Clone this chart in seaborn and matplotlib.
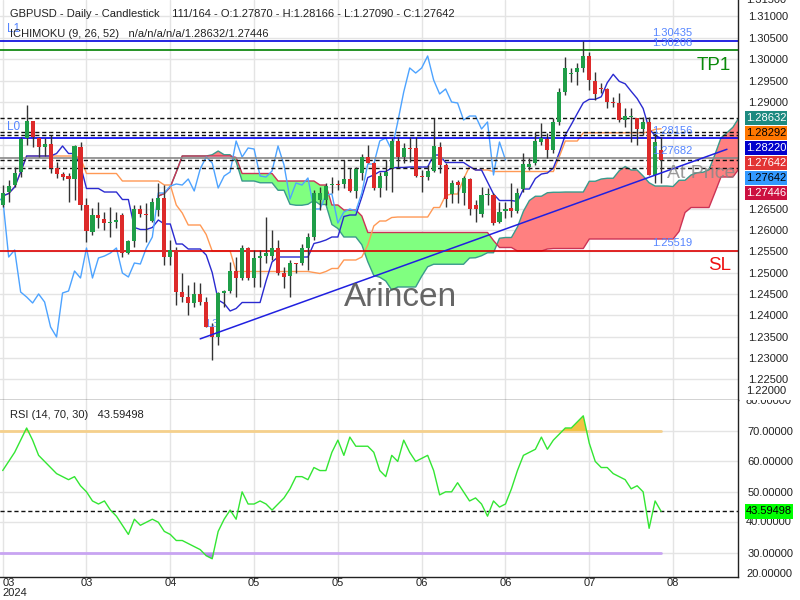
import numpy as np
import pandas as pd
import matplotlib
matplotlib.use("Agg")
import matplotlib.pyplot as plt
import seaborn as sns
from matplotlib.transforms import Bbox, TransformedBbox
from matplotlib.patches import Rectangle

sns.set_theme(style="white")
plt.rcParams['font.family'] = ['Liberation Sans', 'DejaVu Sans']

# ---------------- data ----------------
opens = [1.26585, 1.26889, 1.27053, 1.27358, 1.28154, 1.28552, 1.28154, 1.27943, 1.28014, 1.27451,
         1.27311, 1.27264, 1.27194, 1.27943, 1.26585, 1.25953, 1.26351, 1.26257, 1.26163, 1.26187,
         1.26351, 1.25461, 1.25742, 1.26491, 1.26374, 1.26210, 1.26468, 1.26749, 1.25367, 1.25531,
         1.24547, 1.24430, 1.24290, 1.24501, 1.24313, 1.23728, 1.23494, 1.24524, 1.24571, 1.25039,
         1.24875, 1.25578, 1.24875, 1.25344, 1.25390, 1.25390, 1.25578, 1.24992, 1.24922, 1.25226,
         1.25226, 1.25578, 1.25835, 1.26702, 1.26702, 1.27053, 1.27077, 1.27077, 1.27194, 1.26913,
         1.27334, 1.27709, 1.27569, 1.26983, 1.27264, 1.27451, 1.28084, 1.27709, 1.27920, 1.27920,
         1.27264, 1.27241, 1.27381, 1.27943, 1.27522, 1.26843, 1.27124, 1.26866, 1.27194, 1.26585,
         1.26374, 1.26819, 1.26819, 1.26187, 1.26444, 1.26515, 1.26444, 1.26960, 1.27475, 1.27569,
         1.28060, 1.28131, 1.27873, 1.28529, 1.29231, 1.29653, 1.29700, 1.29794, 1.30075, 1.29489,
         1.29325, 1.29302, 1.28997, 1.28974, 1.28576, 1.28646, 1.28622, 1.28365, 1.28529, 1.27288,
         1.27870]
highs = [1.27053, 1.27170, 1.27475, 1.28177, 1.28927, 1.28552, 1.28177, 1.28154, 1.28224, 1.27592,
         1.27358, 1.27334, 1.27990, 1.28060, 1.26749, 1.26515, 1.26655, 1.26421, 1.26538, 1.26421,
         1.26398, 1.25765, 1.26585, 1.26585, 1.26632, 1.26749, 1.27100, 1.27053, 1.25765, 1.25601,
         1.24992, 1.24711, 1.24782, 1.24758, 1.24430, 1.23821, 1.24547, 1.24594, 1.25250, 1.25367,
         1.25648, 1.25601, 1.25531, 1.25531, 1.26304, 1.25999, 1.25765, 1.25133, 1.25297, 1.25226,
         1.25672, 1.25929, 1.26936, 1.27006, 1.27100, 1.27241, 1.27170, 1.27639, 1.27451, 1.27475,
         1.27779, 1.27990, 1.27592, 1.27358, 1.27639, 1.28154, 1.28177, 1.28037, 1.28177, 1.28177,
         1.27405, 1.27522, 1.28622, 1.28060, 1.27569, 1.27170, 1.27170, 1.27264, 1.27217, 1.26702,
         1.27006, 1.26983, 1.26866, 1.26655, 1.26655, 1.27100, 1.26983, 1.27803, 1.27686, 1.28295,
         1.28505, 1.28271, 1.28622, 1.29325, 1.30051, 1.29794, 1.29911, 1.30435, 1.30168, 1.29700,
         1.29442, 1.29325, 1.29114, 1.29208, 1.28857, 1.28857, 1.28622, 1.28646, 1.28646, 1.28271,
         1.28166]
lows = [1.26538, 1.26655, 1.27006, 1.27241, 1.27990, 1.27943, 1.27709, 1.27732, 1.27334, 1.27217,
        1.27170, 1.26655, 1.26702, 1.26468, 1.25718, 1.25882, 1.26046, 1.25999, 1.25835, 1.26046,
        1.25367, 1.25437, 1.25601, 1.26304, 1.25718, 1.26187, 1.26327, 1.25180, 1.25180, 1.24243,
        1.24313, 1.24009, 1.24196, 1.24243, 1.23728, 1.22955, 1.23306, 1.24196, 1.24524, 1.24430,
        1.24828, 1.24828, 1.24665, 1.24665, 1.25226, 1.25297, 1.24945, 1.24641, 1.24430, 1.24992,
        1.25180, 1.25062, 1.25765, 1.26468, 1.26585, 1.26866, 1.26936, 1.26983, 1.26889, 1.26749,
        1.27170, 1.27569, 1.26936, 1.26772, 1.26936, 1.26889, 1.27475, 1.27569, 1.27592, 1.27241,
        1.26889, 1.27170, 1.27358, 1.27334, 1.26538, 1.26632, 1.26632, 1.26585, 1.26351, 1.26187,
        1.26304, 1.26585, 1.26116, 1.26163, 1.26280, 1.26304, 1.26398, 1.26889, 1.27405, 1.27522,
        1.27990, 1.27686, 1.27803, 1.28459, 1.29161, 1.29466, 1.29395, 1.29700, 1.29278, 1.29044,
        1.29208, 1.28857, 1.28880, 1.28529, 1.28412, 1.28060, 1.27990, 1.28224, 1.27288, 1.27100,
        1.27090]
closes = [1.26866, 1.27030, 1.27334, 1.28131, 1.28548, 1.28177, 1.27943, 1.28014, 1.27451, 1.27311,
          1.27241, 1.27194, 1.27967, 1.26585, 1.25976, 1.26351, 1.26280, 1.26163, 1.26187, 1.26234,
          1.25461, 1.25742, 1.26491, 1.26374, 1.26351, 1.26655, 1.26749, 1.25367, 1.25531, 1.24547,
          1.24430, 1.24290, 1.24501, 1.24313, 1.23728, 1.23494, 1.24524, 1.24571, 1.25039, 1.24875,
          1.25578, 1.24875, 1.25344, 1.25390, 1.25461, 1.25578, 1.24992, 1.24899, 1.25226, 1.25203,
          1.25578, 1.25835, 1.26866, 1.26866, 1.27030, 1.27077, 1.27053, 1.27194, 1.26913, 1.27428,
          1.27709, 1.27569, 1.26983, 1.27264, 1.27358, 1.28084, 1.27709, 1.27920, 1.27896, 1.27264,
          1.27241, 1.27381, 1.27967, 1.27522, 1.26725, 1.27100, 1.27053, 1.27217, 1.26491, 1.26491,
          1.26819, 1.26843, 1.26163, 1.26421, 1.26491, 1.26444, 1.26866, 1.27545, 1.27545, 1.28084,
          1.28154, 1.27873, 1.28529, 1.29231, 1.29794, 1.29676, 1.29794, 1.30075, 1.29512, 1.29185,
          1.29302, 1.28997, 1.28974, 1.28576, 1.28669, 1.28669, 1.28365, 1.28529, 1.27288, 1.28060,
          1.27642]
rsi = [57, 60, 63, 67, 71, 67, 62, 60, 58, 56, 55,
       54, 55, 52, 50, 47, 46, 47, 44, 42, 39,
       36, 41, 39, 40, 41, 40, 37, 36, 34, 34,
       33, 32, 31, 29, 28, 37, 41, 44, 41, 50,
       46, 46, 47, 46, 44, 46, 48, 51, 55, 55,
       54, 58, 57, 57, 63, 67, 62, 68, 65, 65,
       65, 63, 57, 55, 62, 60, 67, 63, 60, 61,
       62, 57, 49, 50, 50, 53, 50, 47, 48, 46,
       42, 47, 45, 46, 51, 57, 62, 63, 64, 68,
       64, 67, 69, 71, 71, 73, 75, 66, 60, 58,
       58, 56, 55, 54, 51, 52, 50, 38, 47, 43.59498]

tick_pos = [0, 14, 28, 42, 56, 70, 84, 98, 112]
tick_lbl = ['03\n2024', '03', '04', '05', '05', '06', '06', '07', '08']
price_ticks = [1.225, 1.230, 1.235, 1.240, 1.245, 1.250, 1.255, 1.260, 1.265, 1.270,
               1.275, 1.280, 1.285, 1.290, 1.295, 1.300, 1.305, 1.310]
hidden_ticks = [1.270, 1.275, 1.280, 1.285]   # covered by the price boxes
rsi_ticks = [30, 40, 50, 60, 70]

level_L1 = 1.30435
level_TP1 = 1.30208
level_L0 = 1.28156
level_at_price = 1.27682
level_SL = 1.25519
dashed_levels = [1.28632, 1.28292, 1.28220, 1.27642, 1.27446]
box_vals = [1.28632, 1.28292, 1.28220, 1.27642, 1.27642, 1.27446]
box_cols = ['#1d8a80', '#ff7700', '#0000cc', '#e23434', '#3399ff', '#cc1040']
box_tcol = ['white', 'black', 'white', 'white', 'black', 'white']
trend_x = [33, 121]
trend_y = [1.2345, 1.2789]
rsi_last = 43.59498

# ---------------- derived indicators ----------------
df = pd.DataFrame({'o': opens, 'h': highs, 'l': lows, 'c': closes})
n = len(df)
xb = np.arange(n)
tenkan = (df.h.rolling(9, min_periods=1).max() + df.l.rolling(9, min_periods=1).min()) / 2
kijun = (df.h.rolling(26, min_periods=1).max() + df.l.rolling(26, min_periods=1).min()) / 2
spanA = ((tenkan + kijun) / 2).values
spanB = ((df.h.rolling(52, min_periods=1).max() + df.l.rolling(52, min_periods=1).min()) / 2).values
xs = xb + 26

# ---------------- figure ----------------
fig = plt.figure(figsize=(8, 6), dpi=100)
fig.patch.set_facecolor('white')
W, H = 800, 600
ax1 = fig.add_axes([0, 1 - 400 / H, 738 / W, 400 / H])
ax2 = fig.add_axes([0, 1 - 577 / H, 738 / W, 177 / H])
XL = (-0.45, 122.85)


def fx(px):
    return px / W


def fy(py):
    return 1 - py / H


def price_box(yc_disp, txt, fc, tc, x0=745, w=42, h=14):
    fig.add_artist(Rectangle((x0 / W, (yc_disp - h / 2) / H), w / W, h / H,
                             transform=fig.transFigure, facecolor=fc, edgecolor='none', zorder=5))
    fig.text((x0 + w / 2) / W, yc_disp / H, txt, fontsize=8, color=tc, ha='center', va='center', zorder=6)


# --- price panel ---
ax1.set_xlim(*XL)
ax1.set_ylim(1.22018, 1.31386)
ax1.set_yticks(price_ticks)
ax1.set_xticks(tick_pos)
ax1.set_xticklabels([])
ax1.yaxis.tick_right()
ax1.set_yticklabels(['' if any(abs(v - h) < 1e-9 for h in hidden_ticks) else f"{v:.5f}" for v in price_ticks])
ax1.tick_params(axis='y', length=0, pad=7, labelsize=8, labelcolor='#222')
ax1.tick_params(axis='x', length=0)
ax1.grid(True, color='#e4e4e4', lw=1)
for s in ['left', 'top']:
    ax1.spines[s].set_visible(False)
for s in ['right', 'bottom']:
    ax1.spines[s].set_color('#222')
    ax1.spines[s].set_linewidth(1)

# cloud
ax1.fill_between(xs, spanA, spanB, where=spanA >= spanB, interpolate=True, color='#ff8080', lw=0, zorder=1)
ax1.fill_between(xs, spanA, spanB, where=spanA < spanB, interpolate=True, color='#80ff80', lw=0, zorder=1)
sns.lineplot(x=xs, y=spanA, ax=ax1, color='#3a9a8c', lw=1, zorder=2)
sns.lineplot(x=xs, y=spanB, ax=ax1, color='#cc3355', lw=1, zorder=2)

# lines
sns.lineplot(x=xb, y=kijun.values, ax=ax1, color='#ff9955', lw=1, zorder=2)
sns.lineplot(x=xb, y=tenkan.values, ax=ax1, color='#2a2ad0', lw=1, zorder=2)
sns.lineplot(x=xb - 26, y=df.c.values, ax=ax1, color='#4da3ff', lw=1, zorder=2)

# horizontal levels
ax1.axhline(level_L1, color='#0000dd', lw=1.2, zorder=2)
ax1.axhline(level_TP1, color='#008000', lw=1.2, zorder=2)
ax1.axhline(level_L0, color='#0000ee', lw=1.2, zorder=2)
ax1.axhline(level_at_price, color='#888888', lw=1.2, zorder=2)
ax1.axhline(level_SL, color='#dd0000', lw=1.2, zorder=2)
for lv in dashed_levels:
    ax1.axhline(lv, color='#111', lw=1, ls=(0, (3, 2)), zorder=2)

# candles
o = np.array(opens)
c = np.array(closes)
up = c >= o
ax1.vlines(xb, lows, highs, color='#333333', lw=1, zorder=3)
body = np.maximum(np.abs(c - o), 0.00022)
ax1.bar(xb[up], body[up], bottom=np.minimum(o, c)[up], width=0.68, color='#1f9e48', lw=0, zorder=4)
ax1.bar(xb[~up], body[~up], bottom=np.minimum(o, c)[~up], width=0.68, color='#dd2a2a', lw=0, zorder=4)

# trend line
ax1.plot(trend_x, trend_y, color='#2020e0', lw=1.1, zorder=5)

# level labels
lab_col = '#5585ff'
for lv, t in [(level_L1, '1.30435'), (level_TP1, '1.30208'), (level_L0, '1.28156'),
              (level_at_price, '1.27682'), (level_SL, '1.25519')]:
    ax1.annotate(t, xy=(652 / 738, lv), xycoords=('axes fraction', 'data'), xytext=(0, 5.2),
                 textcoords='offset points', va='center', ha='left', fontsize=8, color=lab_col, zorder=6)
ax1.annotate('L1', xy=(7 / 738, level_L1), xycoords=('axes fraction', 'data'), xytext=(0, 8),
             textcoords='offset points', va='center', ha='left', fontsize=8.5, color=lab_col)
ax1.annotate('L0', xy=(7 / 738, level_L0), xycoords=('axes fraction', 'data'), xytext=(0, 8),
             textcoords='offset points', va='center', ha='left', fontsize=8.5, color=lab_col)
ax1.annotate('L3', xy=(trend_x[0], trend_y[0]), xycoords='data', xytext=(4, 11),
             textcoords='offset points', va='center', ha='left', fontsize=8, color='#6a8cff', zorder=3)

fig.text(fx(714), fy(66), 'TP1', color='#0a8a0a', fontsize=13.5, ha='center', va='center')
fig.text(fx(720), fy(266), 'SL', color='#ee1111', fontsize=13.5, ha='center', va='center')
fig.text(fx(701), fy(174), 'At Price', color='#888888', fontsize=14, ha='center', va='center', alpha=0.85)
fig.text(fx(400), fy(298), 'Arincen', color='#555555', fontsize=24, ha='center', va='center', alpha=0.9)

# headers
fig.text(fx(10), fy(14), 'GBPUSD - Daily - Candlestick    111/164 - O:1.27870 - H:1.28166 - L:1.27090 - C:1.27642',
         fontsize=8, color='#222', ha='left', va='center')
fig.text(fx(10), fy(34), 'ICHIMOKU (9, 26, 52)   n/a/n/a/n/a/1.28632/1.27446',
         fontsize=8, color='#222', ha='left', va='center')
fig.text(fx(10), fy(415), 'RSI (14, 70, 30)   43.59498', fontsize=8, color='#222', ha='left', va='center')

# extra axis labels at the edges
fig.text(fx(746), fy(391), '1.22000', fontsize=8, color='#222', ha='left', va='center')
fig.text(fx(746), 1.0, '1.31500', fontsize=8, color='#222', ha='left', va='center')
t80 = fig.text(fx(746), fy(401), '80.00000', fontsize=8, color='#222', ha='left', va='center')
t80.set_clip_on(True)
t80.set_clip_box(TransformedBbox(Bbox([[0.9, 0.0], [1.0, fy(400)]]), fig.transFigure))
t20 = fig.text(fx(746), fy(574), '20.00000', fontsize=8, color='#222', ha='left', va='center')
t20.set_clip_on(True)
t20.set_clip_box(TransformedBbox(Bbox([[0.9, fy(579)], [1.0, 1.0]]), fig.transFigure))

# price boxes (stacked so they do not overlap)
prev = None
for v, col, tc in zip(box_vals, box_cols, box_tcol):
    yd = ax1.transData.transform((0, v))[1]
    if prev is not None:
        yd = min(yd, prev - 15)
    prev = yd
    price_box(yd, f"{v:.5f}", col, tc)

# --- RSI panel ---
ax2.set_xlim(*XL)
ax2.set_ylim(22.0, 80.2)
ax2.set_yticks(rsi_ticks)
ax2.yaxis.tick_right()
ax2.set_yticklabels(['' if v == 40 else f"{v:.5f}" for v in rsi_ticks])
ax2.tick_params(axis='y', length=0, pad=7, labelsize=8, labelcolor='#222')
ax2.set_xticks(tick_pos)
ax2.set_xticklabels(tick_lbl, fontsize=8, color='#222', linespacing=0.95)
ax2.get_xticklabels()[0].set_ha('left')
ax2.tick_params(axis='x', length=0, pad=1)
ax2.grid(True, color='#e4e4e4', lw=1)
for s in ['left', 'top']:
    ax2.spines[s].set_visible(False)
for s in ['right', 'bottom']:
    ax2.spines[s].set_color('#222')
    ax2.spines[s].set_linewidth(1)

r = np.array(rsi, dtype=float)
ax2.plot([XL[0], n - 1], [70, 70], color='#f5d08c', lw=2, zorder=2)
ax2.plot([XL[0], n - 1], [30, 30], color='#c8a4f2', lw=2, zorder=2)
ax2.fill_between(xb, r, 70, where=r > 70, interpolate=True, color='#f2c343', lw=0, zorder=2)
ax2.fill_between(xb, r, 30, where=r < 30, interpolate=True, color='#b58ae8', lw=0, zorder=2)
sns.lineplot(x=xb, y=r, ax=ax2, color='#33e633', lw=1, zorder=3)
ax2.axhline(rsi_last, color='#111', lw=1, ls=(0, (3, 2)), zorder=2)
# the 40.00000 label sits partly under the RSI value box, as in the reference
y40 = ax2.transData.transform((0, 40))[1]
t40 = fig.text(fx(746), y40 / H, '40.00000', fontsize=8, color='#222', ha='left', va='center', zorder=4)
rb = ax2.transData.transform((0, rsi_last))[1]
t40.set_clip_on(True)
t40.set_clip_box(TransformedBbox(Bbox([[0.9, 0.0], [1.0, (rb - 7.5) / H]]), fig.transFigure))
price_box(rb, f"{rsi_last:.5f}", '#00ff00', 'black', w=48, h=15)

for a in (ax1, ax2):
    a.set_xlabel('')
    a.set_ylabel('')
    if a.get_legend():
        a.get_legend().remove()

fig.savefig('out.png', dpi=100, facecolor='white')
